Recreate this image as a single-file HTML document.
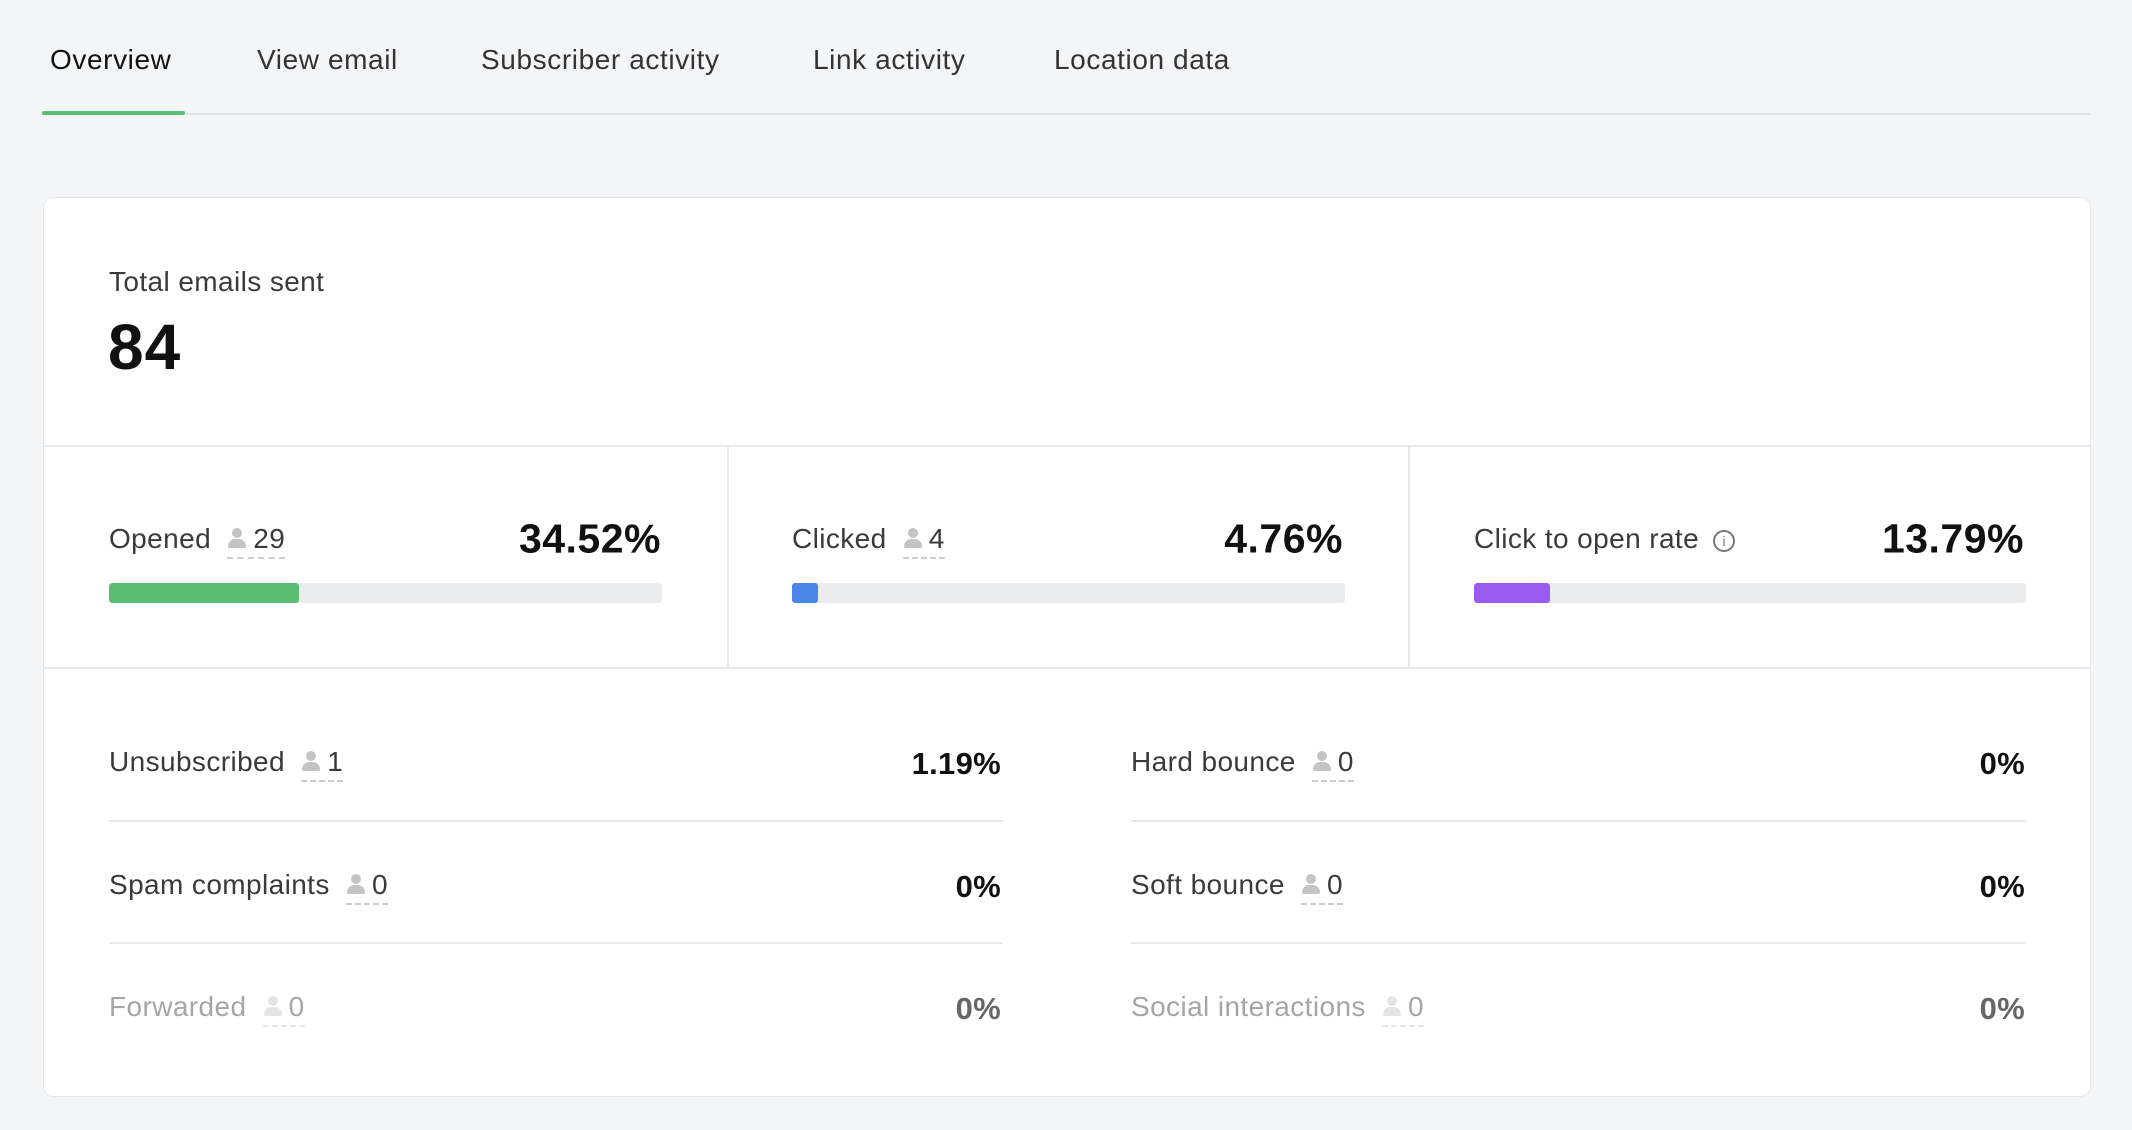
<!DOCTYPE html>
<html><head><meta charset="utf-8"><style>
*{margin:0;padding:0;box-sizing:border-box}
body{width:2132px;height:1130px;background:#f4f5f7;font-family:"Liberation Sans",sans-serif;position:relative;overflow:hidden;color:#3a3a3a}
.a{position:absolute;white-space:nowrap}
.tab{font-size:28px;color:#333;top:44px;letter-spacing:0.6px}
.card{position:absolute;left:43px;top:197px;width:2048px;height:900px;background:#fff;border:1px solid #e6e7ea;border-radius:11px}
.lbl{font-size:28px;color:#3a3a3a;transform:translateY(-50%);letter-spacing:0.4px}
.pct{font-size:41px;font-weight:bold;color:#111;transform:translateY(-50%);letter-spacing:0.5px}
.pct2{font-size:31px;font-weight:bold;color:#111;transform:translateY(-50%);letter-spacing:0.3px}
.bar{position:absolute;height:20px;background:#ebecee;border-radius:3px;overflow:hidden}
.bar i{position:absolute;left:0;top:0;bottom:0;border-radius:3px}
.cnt{display:inline-block;border-bottom:2px dashed #ccc;padding-bottom:2px;margin-left:8px}
.u{display:inline-block;width:20px;height:22px;position:relative;vertical-align:-1px;margin-right:6px}
.u:before{content:"";position:absolute;left:5px;top:1px;width:10px;height:10px;border-radius:50%;background:#c4c4c4}
.u:after{content:"";position:absolute;left:1px;top:12px;width:18px;height:9px;border-radius:9px 9px 2px 2px;background:#c4c4c4}
.hl{position:absolute;height:2px;background:#e8e9ec}
.f{opacity:.45}
</style></head><body>
<div class="a tab" style="left:50px;color:#111">Overview</div>
<div class="a tab" style="left:257px">View email</div>
<div class="a tab" style="left:481px">Subscriber activity</div>
<div class="a tab" style="left:813px">Link activity</div>
<div class="a tab" style="left:1054px">Location data</div>
<div class="a" style="left:42px;top:113px;width:2049px;height:2px;background:#e3e4e7"></div>
<div class="a" style="left:42px;top:111px;width:143px;height:4px;background:#5bbd72;border-radius:2px"></div>

<div class="card"></div>
<div class="a lbl" style="left:109px;top:282px">Total emails sent</div>
<div class="a" style="left:108px;top:310px;font-size:64px;font-weight:bold;color:#111;letter-spacing:1px">84</div>
<div class="a" style="left:44px;top:445px;width:2046px;height:2px;background:#e8e9ec"></div>
<div class="a" style="left:44px;top:667px;width:2046px;height:2px;background:#e8e9ec"></div>
<div class="a" style="left:727px;top:446px;width:2px;height:222px;background:#e8e9ec"></div>
<div class="a" style="left:1408px;top:446px;width:2px;height:222px;background:#e8e9ec"></div>

<div class="a lbl" style="left:109px;top:541px">Opened <span class="cnt"><span class="u"></span>29</span></div>
<div class="a pct" style="right:1471px;top:539px">34.52%</div>
<div class="bar" style="left:109px;top:583px;width:553px"><i style="width:190px;background:#5bbd72"></i></div>

<div class="a lbl" style="left:792px;top:541px">Clicked <span class="cnt"><span class="u"></span>4</span></div>
<div class="a pct" style="right:789px;top:539px">4.76%</div>
<div class="bar" style="left:792px;top:583px;width:553px"><i style="width:26px;background:#4a84e8"></i></div>

<div class="a lbl" style="left:1474px;top:539px">Click to open rate <span style="display:inline-block;width:22px;height:22px;border:2px solid #777;border-radius:50%;font-size:14px;text-align:center;line-height:18px;color:#777;vertical-align:2px;margin-left:6px">i</span></div>
<div class="a pct" style="right:108px;top:539px">13.79%</div>
<div class="bar" style="left:1474px;top:583px;width:552px"><i style="width:76px;background:#9a5cee"></i></div>

<div class="a lbl" style="left:109px;top:764px">Unsubscribed <span class="cnt"><span class="u"></span>1</span></div>
<div class="a pct2" style="right:1131px;top:764px">1.19%</div>
<div class="hl" style="left:109px;top:820px;width:894px"></div>
<div class="a lbl" style="left:109px;top:887px">Spam complaints <span class="cnt"><span class="u"></span>0</span></div>
<div class="a pct2" style="right:1131px;top:887px">0%</div>
<div class="hl" style="left:109px;top:942px;width:894px"></div>
<div class="a lbl f" style="left:109px;top:1009px">Forwarded <span class="cnt"><span class="u"></span>0</span></div>
<div class="a pct2" style="right:1131px;top:1009px;color:#666">0%</div>

<div class="a lbl" style="left:1131px;top:764px">Hard bounce <span class="cnt"><span class="u"></span>0</span></div>
<div class="a pct2" style="right:107px;top:764px">0%</div>
<div class="hl" style="left:1131px;top:820px;width:895px"></div>
<div class="a lbl" style="left:1131px;top:887px">Soft bounce <span class="cnt"><span class="u"></span>0</span></div>
<div class="a pct2" style="right:107px;top:887px">0%</div>
<div class="hl" style="left:1131px;top:942px;width:895px"></div>
<div class="a lbl f" style="left:1131px;top:1009px">Social interactions <span class="cnt"><span class="u"></span>0</span></div>
<div class="a pct2" style="right:107px;top:1009px;color:#666">0%</div>
</body></html>
